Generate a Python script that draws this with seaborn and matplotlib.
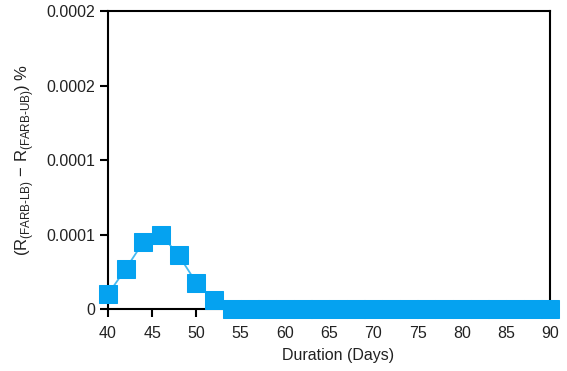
import seaborn as sns
import matplotlib.pyplot as plt
import pandas as pd

# duration in days and the difference of the two bounds (%)
dias = [40, 42, 44, 46, 48, 50, 52, 54, 56, 58, 60, 62, 64, 66, 68, 70,
        72, 74, 76, 78, 80, 82, 84, 86, 88, 90]
diferenca = [0.00001, 0.000027, 0.000045, 0.00005, 0.000036, 0.0000175, 0.000006,
             0, 0, 0, 0, 0, 0, 0, 0, 0, 0, 0, 0, 0, 0, 0, 0, 0, 0, 0]
x_ticks = [40, 45, 50, 55, 60, 65, 70, 75, 80, 85, 90]
y_ticks = [0, 0.00005, 0.0001, 0.00015, 0.0002]
y_labels = ["0", "0.0001", "0.0001", "0.0002", "0.0002"]

df = pd.DataFrame({"dias": dias, "diferenca": diferenca})

sns.set_style("ticks")
plt.rcParams['font.family'] = ['Liberation Sans', 'DejaVu Sans']
plt.rcParams['mathtext.fontset'] = 'custom'
plt.rcParams['mathtext.rm'] = 'Liberation Sans'

fig = plt.figure(figsize=(5.67, 3.71), dpi=100)
ax = fig.add_axes([0.1905, 0.167, 0.780, 0.803])

sns.lineplot(data=df, x="dias", y="diferenca", ax=ax, color="#45baf2",
             linewidth=1.3, marker="s", markersize=13,
             markerfacecolor="#05a2f0", markeredgecolor="#05a2f0",
             clip_on=False, zorder=5)

ax.set_xlim(40, 90)
ax.set_ylim(0, 0.0002)
ax.set_xticks(x_ticks)
ax.set_yticks(y_ticks)
ax.set_yticklabels(y_labels)

for lado in ["top", "right", "left", "bottom"]:
    ax.spines[lado].set_visible(True)
    ax.spines[lado].set_linewidth(1.5)
    ax.spines[lado].set_color("black")
ax.tick_params(axis="both", direction="out", length=5.5, width=1.5,
               labelsize=11.5, colors="black", labelcolor="#222222")
ax.tick_params(axis="x", pad=7)
ax.tick_params(axis="y", pad=4)

ax.set_xlabel("Duration (Days)", fontsize=11.5, color="#222222")
ax.xaxis.set_label_coords(0.52, -0.13)
ax.set_ylabel("(R$_{\\mathregular{(FARB\u2010LB)}}$ \u2212 R$_{\\mathregular{(FARB\u2010UB)}}$) %",
              fontsize=12, color="#222222", labelpad=7)

plt.savefig("out.png", dpi=100)
